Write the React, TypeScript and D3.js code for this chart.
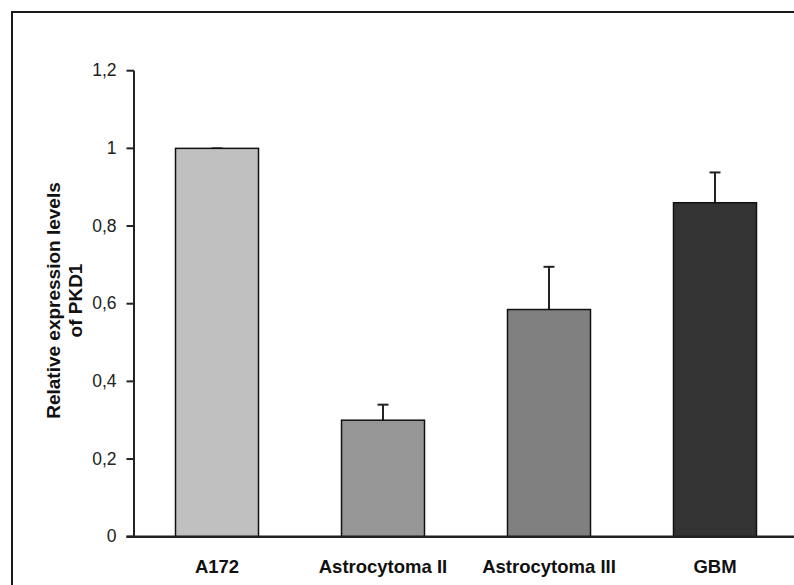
import React from 'react';
import { scaleBand, scaleLinear } from 'd3';

const width = 794;
const height = 585;

const categories = ['A172', 'Astrocytoma II', 'Astrocytoma III', 'GBM'];
const values = [1.0, 0.3, 0.585, 0.86];
const errors = [0.0, 0.04, 0.11, 0.078];
const colors = ['#c0c0c0', '#969696', '#808080', '#333333'];
const yTicks = [0, 0.2, 0.4, 0.6, 0.8, 1, 1.2];

const axisX = 134;
const axisY = 536.7;

const x = scaleBand<string>()
    .domain(categories)
    .range([axisX, axisX + 664])
    .paddingInner(0.5)
    .paddingOuter(0.25);

const y = scaleLinear().domain([0, 1.2]).range([axisY, 70.7]);

const fmt = (d: number) => String(d).replace('.', ',');

const font = 'Arial, "Liberation Sans", Helvetica, sans-serif';

const App = () => {
    return (
        <svg width={width} height={height} style={{ position: 'absolute', left: 0, top: 0 }} fontFamily={font}>
            <rect x={0} y={0} width={width} height={height} fill="#fff" />
            {/* frame, clipped at right and bottom */}
            <rect x={12} y={12} width={width + 20} height={height + 20} fill="none" stroke="#1a1a1a" strokeWidth={2} />

            {categories.map((c, i) => {
                const bx = x(c)!;
                const cx = bx + x.bandwidth() / 2;
                const top = y(values[i]);
                const errTop = y(values[i] + errors[i]);
                return (
                    <g key={c}>
                        <line x1={cx} x2={cx} y1={top} y2={errTop} stroke="#222" strokeWidth={2} />
                        <line x1={cx - 5.5} x2={cx + 5.5} y1={errTop} y2={errTop} stroke="#222" strokeWidth={2} />
                        <rect x={bx} y={top} width={x.bandwidth()} height={axisY - top}
                            fill={colors[i]} stroke="#111" strokeWidth={1.5} />
                        <text x={cx} y={573} textAnchor="middle" fontWeight="bold" fontSize={18.5} fill="#111">{c}</text>
                    </g>
                );
            })}

            {/* y axis */}
            <line x1={axisX} x2={axisX} y1={y(1.2)} y2={axisY} stroke="#222" strokeWidth={2} />
            {yTicks.map(t => (
                <g key={t}>
                    <line x1={axisX - 7.5} x2={axisX} y1={y(t)} y2={y(t)} stroke="#222" strokeWidth={2} />
                    <text x={116.5} y={y(t)} dy="0.33em" textAnchor="end" fontSize={17.5} fill="#222">{fmt(t)}</text>
                </g>
            ))}
            {/* x axis */}
            <line x1={axisX - 7.5} x2={width} y1={axisY} y2={axisY} stroke="#222" strokeWidth={2.5} />

            <g transform="translate(60, 300.5) rotate(-90)">
                <text x={0} y={0} textAnchor="middle" fontWeight="bold" fontSize={19} fill="#111">Relative expression levels</text>
                <text x={0} y={21.7} textAnchor="middle" fontWeight="bold" fontSize={19} fill="#111">of PKD1</text>
            </g>
        </svg>
    );
};

export default App;
